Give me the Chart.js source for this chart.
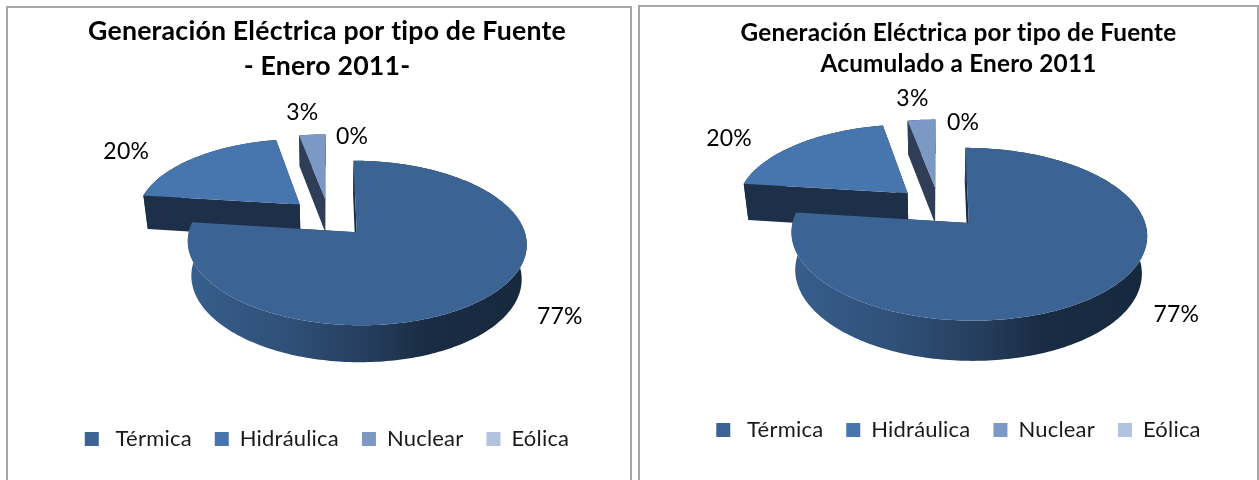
<!DOCTYPE html>
<html>
<head>
<meta charset="utf-8">
<title>Generación Eléctrica por tipo de Fuente</title>
<script src="https://cdn.jsdelivr.net/npm/chart.js@4"></script>
<style>
  html, body { margin: 0; padding: 0; background: #fff; overflow: hidden; }
  body { width: 1259px; height: 480px; position: relative; }
  .panel { position: absolute; box-sizing: border-box; background: #fff; border: 2px solid #a6a6a6; border-bottom: none; }
  #panelLeft { left: 6px; top: 6px; width: 626px; height: 474px; }
  #panelRight { left: 638px; top: 5px; width: 621px; height: 475px; }
  canvas { display: block; }
</style>
</head>
<body>
<div class="panel" id="panelLeft"><canvas id="chartLeft"></canvas></div>
<div class="panel" id="panelRight"><canvas id="chartRight"></canvas></div>
<script>
const categories = ["Térmica", "Hidráulica", "Nuclear", "Eólica"];
const valuesEnero = [77, 20, 3, 0];
const valuesAcumulado = [77, 20, 3, 0];
const titleEnero = ["Generación Eléctrica por tipo de Fuente", "- Enero 2011-"];
const titleAcumulado = ["Generación Eléctrica por tipo de Fuente", "Acumulado a Enero 2011"];
const sliceColors = ["#3b6494", "#4776ae", "#7c98c4", "#b3c2de"];
const wallColors = ["#1b2d45", "#1e3049", "#2f3e56", "#5a6a85"];

const FONT = "Lato, Carlito, 'Open Sans', sans-serif";

// fake 3D pie: takes the angles and radius chart.js computed and tilts them
const pie3d = {
  id: "pie3d",
  // tiny spacing also turns off the "ti" ligature in Lato
  beforeLayout(chart) {
    chart.ctx.letterSpacing = "0.2px";
  },
  beforeDraw(chart) {
    chart.ctx.letterSpacing = "0.2px";
  },
  beforeDatasetsDraw(chart, args, opts) {
    const ctx = chart.ctx;
    const meta = chart.getDatasetMeta(0);
    const values = chart.data.datasets[0].data;

    function projector(el) {
      const R = el.outerRadius;
      const cx = el.x + opts.shiftX;
      const cy = el.y + opts.shiftY;
      return function(x, y, z) {
        const s = 1 / (1 - opts.persp * y / R + opts.depthPersp * z);
        return { x: cx + x * s, y: cy + (opts.tilt * y + z * opts.depth) * s };
      };
    }

    function rimPoints(el, off, z) {
      const project = projector(el);
      const pts = [];
      const n = Math.max(2, Math.ceil((el.endAngle - el.startAngle) / 0.02));
      for (let i = 0; i <= n; i++) {
        const a = el.startAngle + (el.endAngle - el.startAngle) * i / n;
        pts.push(project(off.x + el.outerRadius * Math.cos(a), off.y + el.outerRadius * Math.sin(a), z));
      }
      return pts;
    }

    function fillPath(pts, fill) {
      ctx.beginPath();
      pts.forEach((p, i) => i ? ctx.lineTo(p.x, p.y) : ctx.moveTo(p.x, p.y));
      ctx.closePath();
      ctx.fillStyle = fill;
      ctx.fill();
    }

    function sideGradient(el) {
      const cx = el.x + opts.shiftX;
      const g = ctx.createLinearGradient(cx - el.outerRadius * 0.85, 0, cx + el.outerRadius * 1.15, 0);
      g.addColorStop(0, "#375e8c");
      g.addColorStop(0.3, "#2f5078");
      g.addColorStop(0.55, "#253d5c");
      g.addColorStop(0.72, "#1a2c44");
      g.addColorStop(1, "#17293e");
      return g;
    }

    // back slices first so Térmica ends up on top
    for (let i = meta.data.length - 1; i >= 0; i--) {
      if (!values[i]) continue;
      const el = meta.data[i];
      const mid = (el.startAngle + el.endAngle) / 2;
      const offset = el.options.offset;
      const off = { x: offset * Math.cos(mid), y: offset * Math.sin(mid) };
      const project = projector(el);

      const topApex = project(off.x, off.y, 0);
      const lowApex = project(off.x, off.y, 1);
      const topRim = rimPoints(el, off, 0);
      const lowRim = rimPoints(el, off, 1);
      const last = topRim.length - 1;

      fillPath([topApex, topRim[0], lowRim[0], lowApex], wallColors[i]);
      fillPath([topApex, topRim[last], lowRim[last], lowApex], wallColors[i]);
      fillPath(topRim.concat(lowRim.slice().reverse()), i === 0 ? sideGradient(el) : wallColors[i]);
      fillPath([topApex].concat(topRim), sliceColors[i]);
    }

    // percent labels next to each slice rim
    ctx.font = opts.labelSize + "px " + FONT;
    ctx.fillStyle = "#000";
    ctx.textAlign = "center";
    ctx.textBaseline = "middle";
    const total = values.reduce((a, b) => a + b, 0);
    meta.data.forEach((el, i) => {
      const project = projector(el);
      const mid = (el.startAngle + el.endAngle) / 2;
      const r = el.outerRadius + el.options.offset;
      const p = project(r * Math.cos(mid), r * Math.sin(mid), 0);
      ctx.fillText(Math.round(values[i] / total * 100) + "%", p.x + opts.labelNudge[i][0], p.y + opts.labelNudge[i][1]);
    });

    return false;
  }
};

function makeChart(id, values, title, cfg) {
  const canvas = document.getElementById(id);
  canvas.width = cfg.width;
  canvas.height = cfg.height;
  return new Chart(canvas, {
    type: "pie",
    data: {
      labels: categories,
      datasets: [{
        data: values,
        backgroundColor: sliceColors,
        borderWidth: 0,
        offset: cfg.explode,
        radius: cfg.radius
      }]
    },
    plugins: [pie3d],
    options: {
      responsive: false,
      animation: false,
      layout: { padding: cfg.padding },
      plugins: {
        tooltip: { enabled: false },
        title: {
          display: true,
          text: title,
          color: "#000",
          font: { family: FONT, size: cfg.titleSize, weight: "bold", lineHeight: cfg.titleLine },
          padding: { top: 0, bottom: 0 }
        },
        legend: {
          position: "bottom",
          labels: {
            color: "#1a1a1a",
            font: { family: FONT, size: 22 },
            boxWidth: 14,
            boxHeight: 14,
            padding: 23,
            generateLabels(chart) {
              const items = Chart.overrides.pie.plugins.legend.labels.generateLabels(chart);
              items[0].text = " " + items[0].text;
              return items;
            }
          }
        },
        pie3d: {
          shiftX: cfg.shiftX,
          shiftY: cfg.shiftY,
          tilt: 0.47,
          persp: 0.127,
          depthPersp: 0.025,
          depth: cfg.depth,
          labelSize: 23,
          labelNudge: cfg.labelNudge
        }
      }
    }
  });
}

makeChart("chartLeft", valuesEnero, titleEnero, {
  width: 622, height: 472,
  padding: { left: 16, right: 0, top: 6, bottom: 20 },
  titleSize: 26.7, titleLine: 1.31,
  radius: 164, explode: 41, depth: 35,
  shiftX: 2, shiftY: -27,
  labelNudge: [[77, 17], [-68, -6], [-10, -22], [23, 2]]
});

makeChart("chartRight", valuesAcumulado, titleAcumulado, {
  width: 617, height: 473,
  padding: { left: 20, right: 0, top: 10, bottom: 29 },
  titleSize: 24.3, titleLine: 1.3,
  radius: 172, explode: 44, depth: 38,
  shiftX: -19.5, shiftY: -31,
  labelNudge: [[75, 21], [-68, -6], [-9, -21], [24, 3]]
});
</script>
</body>
</html>
